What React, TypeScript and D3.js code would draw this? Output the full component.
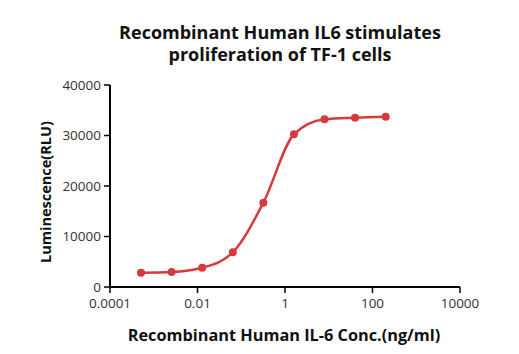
import React from "react";
import * as d3 from "d3";

const concentrations = [0.000512, 0.00256, 0.0128, 0.064, 0.32, 1.6, 8, 40, 200];
const luminescence = [2830, 2970, 3820, 6870, 16700, 30240, 33200, 33530, 33720];
const xTicks = [0.0001, 0.01, 1, 100, 10000];
const xTickLabels = ["0.0001", "0.01", "1", "100", "10000"];
const yTicks = [0, 10000, 20000, 30000, 40000];

const titleLines = ["Recombinant Human IL6 stimulates", "proliferation of TF-1 cells"];
const xLabel = "Recombinant Human IL-6 Conc.(ng/ml)";
const yLabel = "Luminescence(RLU)";

export default function App() {
  const W = 519, H = 354;
  const left = 110, right = 460, top = 85, bottom = 287;
  const x = d3.scaleLog().domain([0.0001, 10000]).range([left, right]);
  const y = d3.scaleLinear().domain([0, 40000]).range([bottom, top]);
  const red = "#d63a3e";
  const data = concentrations.map((c, i) => [c, luminescence[i]] as [number, number]);
  const line = d3
    .line<[number, number]>()
    .x((d) => x(d[0]))
    .y((d) => y(d[1]))
    .curve(d3.curveMonotoneX);
  const font = "'Open Sans', sans-serif";
  return (
    <svg width={W} height={H} style={{ position: "absolute", left: 0, top: 0, background: "#fff" }}>
      {titleLines.map((t, i) => (
        <text key={i} x={280} y={39 + i * 22} textAnchor="middle" fontFamily={font} fontWeight="bold" fontSize={18} fill="#111">
          {t}
        </text>
      ))}
      {/* axes */}
      <line x1={left} x2={left} y1={top} y2={bottom + 1} stroke="#000" strokeWidth={2} />
      <line x1={left - 1} x2={right} y1={bottom} y2={bottom} stroke="#000" strokeWidth={2} />
      {yTicks.map((t) => (
        <g key={t}>
          <line x1={left - 6} x2={left} y1={y(t)} y2={y(t)} stroke="#000" strokeWidth={1.5} />
          <text x={left - 9} y={y(t)} dy="0.35em" textAnchor="end" fontFamily={font} fontSize={13.5} fill="#333">
            {t}
          </text>
        </g>
      ))}
      {xTicks.map((t, i) => (
        <g key={t}>
          <line x1={x(t)} x2={x(t)} y1={bottom} y2={bottom + 6} stroke="#000" strokeWidth={1.5} />
          <text x={x(t)} y={308} textAnchor="middle" fontFamily={font} fontSize={13.5} fill="#333">
            {xTickLabels[i]}
          </text>
        </g>
      ))}
      <text x={284} y={341} textAnchor="middle" fontFamily={font} fontWeight="bold" fontSize={16.3} fill="#111">
        {xLabel}
      </text>
      <text
        transform={`translate(51,${(top + bottom) / 2 + 6}) rotate(-90)`}
        textAnchor="middle"
        fontFamily={font}
        fontWeight="bold"
        fontSize={14.5}
        fill="#111"
      >
        {yLabel}
      </text>
      <path d={line(data) || ""} fill="none" stroke={red} strokeWidth={2.5} />
      {data.map((d, i) => (
        <circle key={i} cx={x(d[0])} cy={y(d[1])} r={4} fill={red} />
      ))}
    </svg>
  );
}
